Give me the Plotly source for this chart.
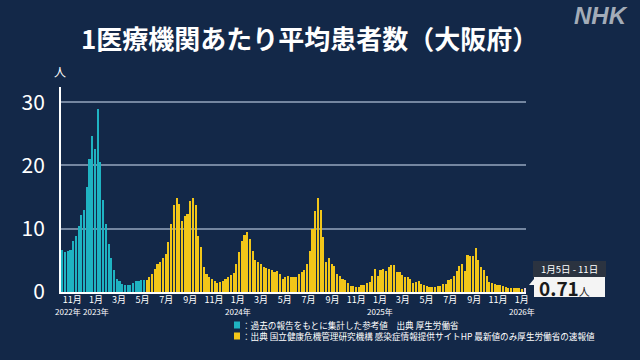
import pandas as pd
import plotly.graph_objects as go

# ---- data (weekly average patients per sentinel site, Osaka) ----
start_week = "2022-10-03"
cyan_vals = [6.6, 6.3, 6.5, 6.6, 8.0, 8.8, 10.4, 12.1, 12.9, 16.6,
             21.0, 24.7, 22.6, 28.9, 20.5, 14.5, 10.7, 7.6, 5.3, 3.4,
             2.1, 1.7, 1.3, 1.1, 1.1, 1.1, 1.5, 1.8, 1.8, 1.9, 1.9]
yellow_vals = [1.9, 2.3, 2.9, 3.6, 4.4, 4.8, 5.3, 6.0, 7.9, 10.7,
               13.7, 14.9, 13.9, 11.3, 12.0, 12.4, 14.4, 14.8, 13.8, 8.8,
               7.1, 4.0, 2.9, 2.4, 2.0, 1.7, 1.5, 1.6, 1.8, 2.1,
               2.4, 2.7, 3.0, 4.5, 6.3, 8.0, 9.0, 9.5, 8.3, 6.5,
               5.1, 4.8, 4.5, 4.0, 3.8, 3.7, 3.4, 3.1, 3.3, 2.8,
               2.0, 2.4, 2.5, 2.4, 2.4, 2.4, 2.8, 3.2, 3.4, 4.4,
               6.5, 9.9, 12.8, 14.8, 13.0, 8.7, 4.8, 5.3, 4.5, 4.1,
               2.9, 2.6, 2.1, 1.9, 1.4, 1.0, 0.9, 0.8, 0.85, 1.1,
               1.15, 1.45, 1.55, 2.5, 3.7, 2.6, 3.4, 3.7, 3.3, 4.0,
               4.3, 4.2, 3.2, 3.1, 2.75, 2.4, 2.3, 2.1, 1.5, 1.6,
               1.75, 1.2, 1.15, 0.9, 0.8, 0.8, 0.8, 0.9, 1.0, 1.2,
               1.2, 1.85, 2.0, 2.5, 3.3, 4.1, 4.5, 3.3, 5.9, 5.7,
               5.7, 6.9, 5.0, 3.9, 3.4, 2.6, 1.6, 1.4, 1.2, 1.1,
               1.05, 0.95, 0.8, 0.7, 0.7, 0.6, 0.6, 0.6, 0.5, 0.71]
tick_dates = ["2022-11-01", "2023-01-01", "2023-03-01", "2023-05-01", "2023-07-01",
              "2023-09-01", "2023-11-01", "2024-01-01", "2024-03-01", "2024-05-01",
              "2024-07-01", "2024-09-01", "2024-11-01", "2025-01-01", "2025-03-01",
              "2025-05-01", "2025-07-01", "2025-09-01", "2025-11-01", "2026-01-01"]
tick_labels = ["11月", "1月", "3月", "5月", "7月",
               "9月", "11月", "1月", "3月", "5月",
               "7月", "9月", "11月", "1月", "3月",
               "5月", "7月", "9月", "11月", "1月"]
year_dates = ["2022-11-01", "2023-01-01", "2024-01-01", "2025-01-01", "2026-01-01"]
year_labels = ["2022年", "2023年", "2024年", "2025年", "2026年"]
y_ticks = [0, 10, 20, 30]
legend_texts = ["：過去の報告をもとに集計した参考値　出典 厚生労働省",
                "：出典 国立健康危機管理研究機構 感染症情報提供サイトHP 最新値のみ厚生労働省の速報値"]
title_text = "1医療機関あたり平均患者数（大阪府）"

# ---- styling ----
BG = "#132848"
CYAN = "#1fb3c2"
YELLOW = "#f2c619"
LAST = "#ecd0d6"
FONT = "Noto Sans CJK JP"
W, H = 640, 360
L, R, T, B = 61, 114, 87, 68
PW, PH = W - L - R, H - T - B

def px(x):
    return (x - L) / PW

def py(y):
    return (H - B - y) / PH

n_all = len(cyan_vals) + len(yellow_vals)
weeks = pd.date_range(start=start_week, periods=n_all, freq="7D")
mid = weeks + pd.Timedelta(hours=84)
wk_ms = 7 * 24 * 3600 * 1000
nc = len(cyan_vals)

fig = go.Figure()
fig.add_trace(go.Bar(x=mid[:nc], y=cyan_vals, width=wk_ms * 0.78,
                     marker=dict(color=CYAN, line=dict(width=0)), hoverinfo="skip"))
ycolors = [YELLOW] * (len(yellow_vals) - 1) + [LAST]
fig.add_trace(go.Bar(x=mid[nc:], y=yellow_vals, width=wk_ms * 0.78,
                     marker=dict(color=ycolors, line=dict(width=0)), hoverinfo="skip"))

x_end = weeks[-1] + pd.Timedelta(days=7)
fig.update_layout(
    width=W, height=H, paper_bgcolor=BG, plot_bgcolor=BG,
    margin=dict(l=L, r=R, t=T, b=B, autoexpand=False), showlegend=False, bargap=0,
    font=dict(family=FONT, color="white"),
    xaxis=dict(type="date", range=[weeks[0], x_end], tickmode="array",
               tickvals=tick_dates, ticktext=tick_labels, showgrid=False,
               ticks="", tickangle=0, automargin=False, ticklabelstandoff=-2,
               tickfont=dict(size=9, color="white", family=FONT),
               showline=True, linecolor="white", linewidth=2, zeroline=False),
    yaxis=dict(range=[0, 32.4], tickvals=y_ticks, showgrid=True, automargin=False,
               gridcolor="rgba(150,165,190,0.75)", gridwidth=2,
               tickfont=dict(size=21, color="white", family=FONT),
               showline=True, linecolor="white", linewidth=2, zeroline=False,
               ticks="", ticklabelstandoff=10),
)

ann = []
ann.append(dict(text="<b>" + title_text + "</b>", x=px(309), y=py(37), xref="paper", yref="paper",
                showarrow=False, font=dict(size=26, color="white", family=FONT),
                xanchor="center", yanchor="middle"))
ann.append(dict(text="<b><i>NHK</i></b>", x=px(630), y=py(16), xref="paper", yref="paper",
                showarrow=False, font=dict(size=24, color="#a3acb8", family="Liberation Sans"),
                xanchor="right", yanchor="middle"))
ann.append(dict(text="人", x=px(60), y=py(72), xref="paper", yref="paper", showarrow=False,
                font=dict(size=12, color="white", family=FONT), xanchor="center", yanchor="middle"))

# year labels under the January ticks
for i, (d, t) in enumerate(zip(year_dates, year_labels)):
    if i == 0:
        ann.append(dict(text=t, x=px(83), y=py(311), xref="paper", yref="paper", showarrow=False,
                        font=dict(size=8, color="white", family=FONT),
                        xanchor="right", yanchor="middle"))
    else:
        ann.append(dict(text=t, x=d, y=py(311), xref="x", yref="paper", showarrow=False,
                        font=dict(size=8, color="white", family=FONT),
                        xanchor="center", yanchor="middle"))

# legend
shapes = []
for i, (col, txt) in enumerate(zip([CYAN, YELLOW], legend_texts)):
    yc = 325 + i * 11
    shapes.append(dict(type="rect", xref="paper", yref="paper", x0=px(234), x1=px(240),
                       y0=py(yc - 3.5), y1=py(yc + 3.5), fillcolor=col, line=dict(width=0)))
    ann.append(dict(text=txt, x=px(240), y=py(yc), xref="paper", yref="paper", showarrow=False,
                    font=dict(size=8.6, color="white", family=FONT), xanchor="left", yanchor="middle"))

# callout for latest value
last_start = weeks[-1]
last_end = last_start + pd.Timedelta(days=6)
date_txt = f"{last_start.month}月{last_start.day}日 - {last_end.day}日"
shapes.append(dict(type="rect", xref="paper", yref="paper", x0=px(533), x1=px(606),
                   y0=py(277), y1=py(261), fillcolor="#2b3340", line=dict(width=0)))
shapes.append(dict(type="rect", xref="paper", yref="paper", x0=px(534), x1=px(605),
                   y0=py(297), y1=py(277), fillcolor="#f4f4f4", line=dict(width=0)))
shapes.append(dict(type="path", xref="paper", yref="paper",
                   path=f"M {px(534)} {py(279)} L {px(529)} {py(285)} L {px(534)} {py(285)} Z",
                   fillcolor="#f4f4f4", line=dict(width=0)))
ann.append(dict(text=date_txt, x=px(569.5), y=py(269), xref="paper", yref="paper", showarrow=False,
                font=dict(size=9.5, color="white", family=FONT), xanchor="center", yanchor="middle"))
ann.append(dict(text=f"<b>{yellow_vals[-1]:.2f}</b><span style='font-size:11px'>人</span>",
                x=px(537), y=py(287.5), xref="paper", yref="paper", showarrow=False,
                font=dict(size=19, color="#1a1a1a", family=FONT), xanchor="left", yanchor="middle"))

fig.update_layout(annotations=ann, shapes=shapes)
fig.write_html("out.html", config={"displayModeBar": False},
               post_script="document.body.style.margin='0';document.body.style.background='%s';" % BG)
